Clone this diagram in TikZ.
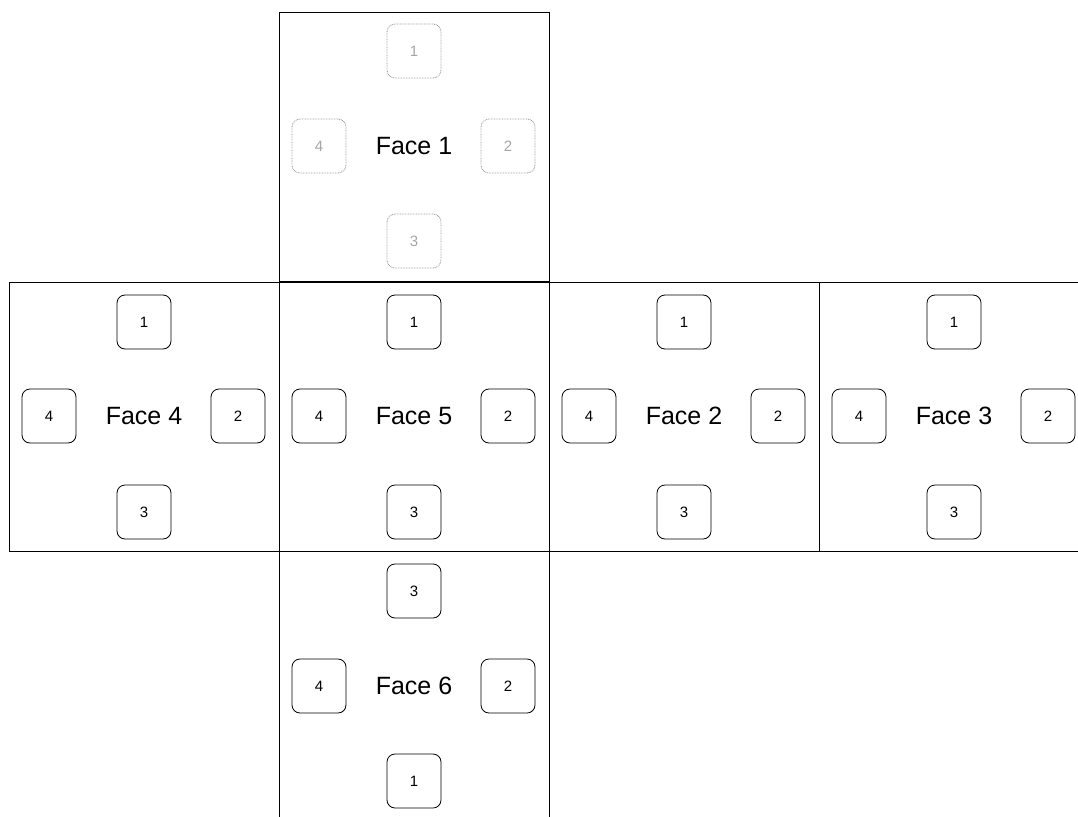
\documentclass[tikz,border=0pt]{standalone}
\usepackage{fontspec}
\setmainfont{Liberation Sans}
\begin{document}
\begin{tikzpicture}[x=1pt,y=-1pt,
  face/.style={draw=black,line width=0.8pt,minimum width=270pt,minimum height=269pt,inner sep=0pt},
  facelabel/.style={font=\fontsize{25}{29}\selectfont,inner sep=0pt},
  pip/.style={draw=black,line width=0.8pt,rounded corners=8pt,minimum size=54pt,inner sep=0pt,font=\fontsize{15}{17}\selectfont},
  ghost/.style={draw=gray!80,dash pattern=on 0.8pt off 0.8pt,line width=0.8pt,rounded corners=8pt,minimum size=54pt,inner sep=0pt,font=\fontsize{15}{17}\selectfont,text=gray!70}]
\useasboundingbox (0,0) rectangle (1078,816);
\clip (0,0) rectangle (1078,816);
\fill[white] (0,0) rectangle (1078,816);
% faces
\node[face] (f1) at (414,146.5) {};
\node[face] (f4) at (144,416.5) {};
\node[face] (f5) at (414,416.5) {};
\node[face] (f2) at (684,416.5) {};
\node[face] (f3) at (954,416.5) {};
\node[face] (f6) at (414,686) {};
% labels
\node[facelabel] (l1) at (414,146) {Face 1};
\node[facelabel] (l4) at (144,416) {Face 4};
\node[facelabel] (l5) at (414,416) {Face 5};
\node[facelabel] (l2) at (684,416) {Face 2};
\node[facelabel] (l3) at (954,416) {Face 3};
\node[facelabel] (l6) at (414,686) {Face 6};
% face 1 ghost pips
\node[ghost] (f1t) at (414,51) {1};
\node[ghost] (f1r) at (508,146) {2};
\node[ghost] (f1b) at (414,241) {3};
\node[ghost] (f1l) at (319,146) {4};
% middle row pips
\foreach \n/\cx in {f4/144,f5/414,f2/684,f3/954}{
  \node[pip] (\n t) at (\cx,322) {1};
  \node[pip] (\n r) at (\cx+94,416) {2};
  \node[pip] (\n b) at (\cx,512) {3};
  \node[pip] (\n l) at (\cx-95,416) {4};
}
% face 6 pips
\node[pip] (f6t) at (414,591) {3};
\node[pip] (f6r) at (508,686) {2};
\node[pip] (f6b) at (414,781) {1};
\node[pip] (f6l) at (319,686) {4};
\end{tikzpicture}
\end{document}
